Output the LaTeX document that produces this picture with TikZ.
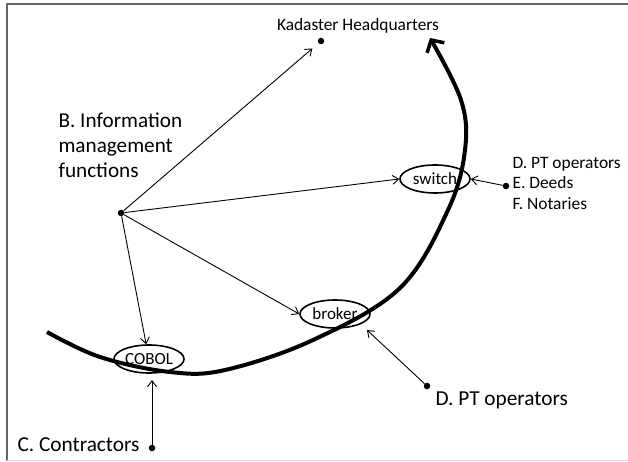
\documentclass[tikz,border=0pt]{standalone}
\usepackage{fontspec}
\setmainfont{Carlito}
\usetikzlibrary{shapes.geometric,arrows.meta}
\tikzset{
  pt/.style={circle,fill=black,inner sep=0pt,minimum size=6.5pt},
  oval/.style={ellipse,draw,line width=1.6pt,inner sep=0pt,minimum width=70pt,minimum height=28pt,font=\fontsize{17}{20}\selectfont},
  conn/.style={line width=0.9pt,-{Straight Barb[length=6pt,width=9pt]}},
  big/.style={font=\fontsize{21.2}{25}\selectfont},
  mid/.style={font=\fontsize{21.3}{25}\selectfont},
  small/.style={font=\fontsize{17.4}{20.5}\selectfont},
}
\begin{document}
\begin{tikzpicture}[x=1pt,y=-1pt]
\useasboundingbox (0,0) rectangle (628,462);
\fill[white] (0,0) rectangle (628,462);
% frame
\draw[line width=2pt,black!60] (7,461) -- (7,4) -- (628,4);
\draw[line width=1.5pt,black!15] (7,460.5) -- (628,460.5);
% big arc
\draw[line width=4pt,-{Straight Barb[length=9pt,width=20pt,line width=3.5pt]}]
  plot[smooth,tension=0.6] coordinates {(47,332) (100,357) (170,372) (225,370) (313,340) (400,288) (448,210) (465,150) (461,100) (430,38)};
% ellipse nodes
\node[oval] (cobol) at (149,359) {COBOL};
\node[oval] (broker) at (335,314) {broker};
\node[oval] (switch) at (435,179) {switch};
% dots
\node[pt] (center) at (121,213) {};
\node[pt] (kdot) at (321,41) {};
\node[pt] (edot) at (506,186) {};
\node[pt] (ddot) at (427,386) {};
\node[pt] (cdot) at (152,448) {};
\coordinate (dtip) at (367,330);
\coordinate (ctip) at (152,380);
% texts
\node[small,anchor=center] (kad) at (358,26) {Kadaster Headquarters};
\node[big,anchor=west,align=left] (binfo) at (55,145) {B. Information\\management\\functions};
\node[small,anchor=west,align=left] (right) at (509,183) {D. PT operators\\E. Deeds\\F. Notaries};
\node[mid,anchor=west] (dpt) at (432,400) {D. PT operators};
\node[mid,anchor=west] (contr) at (14,445) {C. Contractors};
% connectors
\draw[conn,shorten >=8pt] (center) -- (kdot);
\draw[conn] (center) -- (switch.west);
\draw[conn] (center) -- (broker.west);
\draw[conn] (center) -- (cobol);
\draw[conn] (edot) -- (switch.east);
\draw[conn] (ddot) -- (dtip);
\draw[conn] (cdot) -- (ctip);
\end{tikzpicture}
\end{document}
